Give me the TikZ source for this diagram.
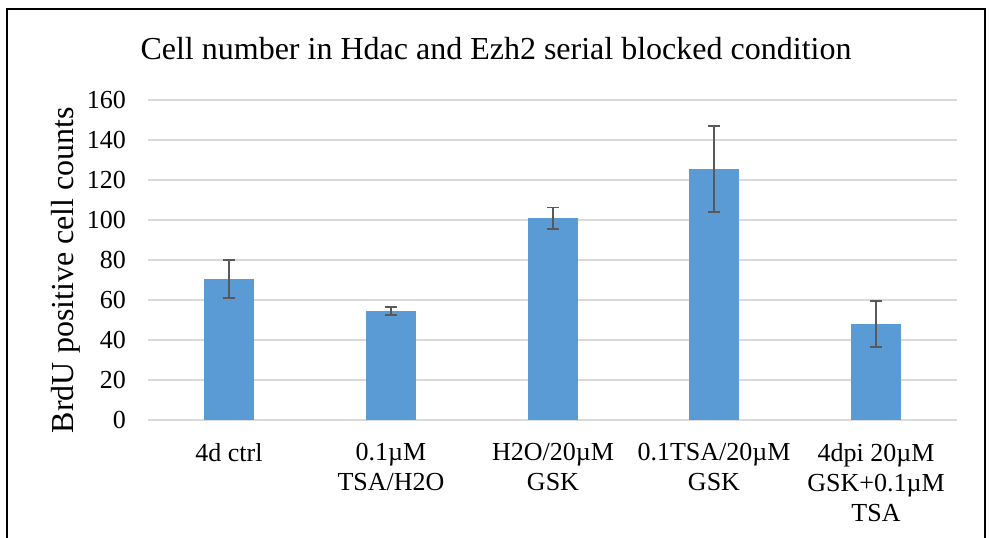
\documentclass[tikz,border=0pt]{standalone}
\usepackage{fontspec}
\setmainfont{Liberation Serif}
\usepackage{tikz}
\usetikzlibrary{positioning}
\definecolor{barblue}{HTML}{5B9BD5}
\definecolor{gridgray}{HTML}{D9D9D9}
\definecolor{errgray}{HTML}{595959}

\begin{document}
\begin{tikzpicture}[x=1pt, y=-1pt,
  frame/.style={draw=black, line width=1.8pt},
  grid/.style={draw=gridgray, line width=1.5pt},
  bar/.style={fill=barblue},
  err/.style={draw=errgray, line width=1.8pt},
  tick/.style={font=\fontsize{26}{30}\selectfont, inner sep=0pt, anchor=east},
  cat/.style={font=\fontsize{26}{30}\selectfont, inner sep=0pt, align=center, anchor=north},
  big/.style={font=\fontsize{32}{36}\selectfont, inner sep=0pt, anchor=base}]
\useasboundingbox (0,0) rectangle (989,538);
\draw[frame] (7,540) -- (7,9) -- (985,9) -- (985,540);
\node[big] (title) at (496,59) {Cell number in Hdac and Ezh2 serial blocked condition};
\node[big, rotate=90] (ylab) at (73,270) {BrdU positive cell counts};
\begin{scope}[shift={(0,420)}, y=2pt]
  \foreach \v in {0,20,...,160} {
    \draw[grid] (148,\v) -- (957,\v);
    \node[tick] (t\v) at (126,\v) {\v};
  }
  \foreach \c/\m/\lo/\hi in {229/70.5/61.1/80.1, 391/54.5/52.7/56.7,
      553/100.8/95.7/106.3, 714/125.3/104/147, 876/47.8/36.7/59.5} {
    \fill[bar] (\c-25,0) rectangle (\c+25,\m);
    \draw[err] (\c,\lo) -- (\c,\hi);
    \draw[err] (\c-6,\lo) -- (\c+6,\lo);
    \draw[err] (\c-6,\hi) -- (\c+6,\hi);
  }
\end{scope}
\node[cat] (c1) at (229,443) {4d ctrl};
\node[cat] (c2) at (391,443) {0.1µM\\TSA/H2O};
\node[cat] (c3) at (553,443) {H2O/20µM\\GSK};
\node[cat] (c4) at (714,443) {0.1TSA/20µM\\GSK};
\node[cat] (c5) at (876,443) {4dpi 20µM\\GSK+0.1µM\\TSA};
\end{tikzpicture}
\end{document}
